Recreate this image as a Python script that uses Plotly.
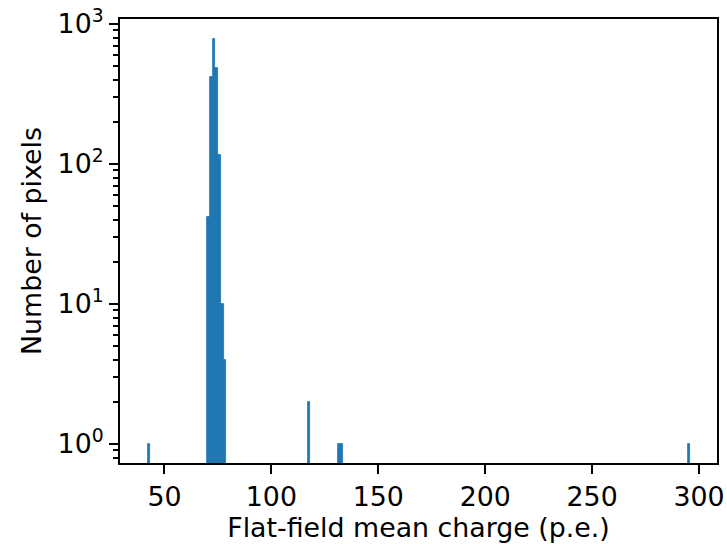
import plotly.graph_objects as go

# Histogram bin centers (p.e.) and counts
bin_centers = [42.74, 70.65, 71.92, 73.19, 74.46, 75.73, 77.00, 78.27,
               117.62, 131.59, 132.86, 295.27]
counts = [1, 42, 415, 780, 485, 116, 10, 4, 2, 1, 1, 1]
bin_width = 1.27

x_ticks = [50, 100, 150, 200, 250, 300]
y_tickvals = [1, 10, 100, 1000]
y_ticktext = ["10<sup>0</sup>", "10<sup>1</sup>", "10<sup>2</sup>", "10<sup>3</sup>"]

fig = go.Figure()
fig.add_trace(go.Bar(
    x=bin_centers, y=counts, width=[bin_width] * len(bin_centers),
    marker=dict(color="#1f77b4", line=dict(width=0.8, color="#1f77b4")),
))

font = dict(family="DejaVu Sans", size=26.8, color="black")

fig.update_layout(
    width=727, height=544,
    margin=dict(l=120, r=10, t=19, b=81, autoexpand=False),
    paper_bgcolor="white", plot_bgcolor="white",
    showlegend=False, bargap=0,
    font=font,
    xaxis=dict(
        range=[29.2, 308.4], tickvals=x_ticks, ticks="outside", ticklen=9,
        tickwidth=2, tickcolor="black", showline=True, linecolor="black",
        linewidth=2, mirror=True, showgrid=False, zeroline=False, automargin=False,
        title=dict(text="Flat-field mean charge (p.e.)", font=font, standoff=4),
        tickfont=font,
    ),
    yaxis=dict(
        type="log", range=[-0.1357, 3.0357], tickvals=y_tickvals, ticktext=y_ticktext,
        ticks="outside", ticklen=9, tickwidth=2, tickcolor="black",
        showline=True, linecolor="black", linewidth=2, mirror=True,
        showgrid=False, zeroline=False, automargin=False,
        minor=dict(ticks="outside", ticklen=5, tickwidth=1.5, tickcolor="black",
                   dtick="D1", showgrid=False),
        title=dict(text="Number of pixels", font=font, standoff=8),
        tickfont=font,
    ),
)

fig.write_html("out.html", config={"displayModeBar": False},
               post_script="document.body.style.margin='0';")
